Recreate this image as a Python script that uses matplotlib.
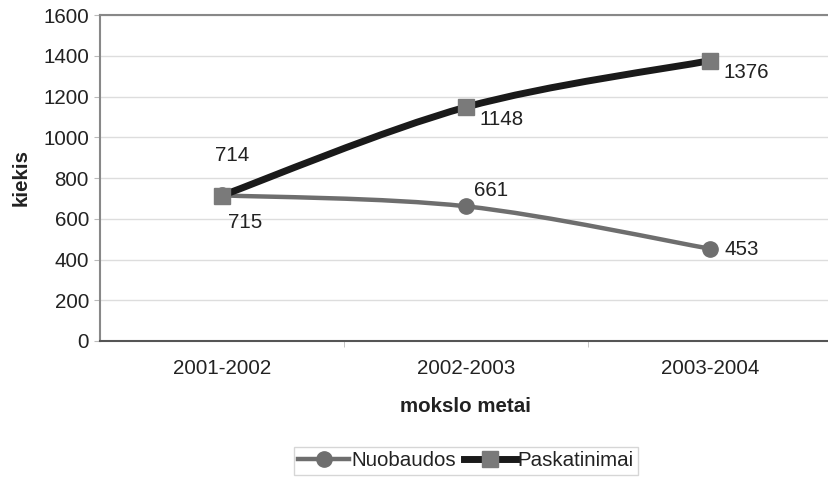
import matplotlib
matplotlib.use("Agg")
import matplotlib.pyplot as plt
import numpy as np
from matplotlib.path import Path
from matplotlib.patches import PathPatch
from matplotlib.lines import Line2D

plt.rcParams['font.family'] = ['Liberation Sans', 'DejaVu Sans']

categories = ["2001-2002", "2002-2003", "2003-2004"]
nuobaudos = [715, 661, 453]
paskatinimai = [714, 1148, 1376]

W, H = 829, 478
fig = plt.figure(figsize=(W/100, H/100), dpi=100)
ax = fig.add_axes([100/W, (H-341)/H, 732/W, 326/H])

x = np.arange(len(categories))

def smooth_path(xs, ys, t=1/6):
    pts = list(zip(xs, ys))
    verts = [pts[0]]
    codes = [Path.MOVETO]
    n = len(pts)
    for i in range(n-1):
        p0 = pts[i-1] if i > 0 else pts[i]
        p1 = pts[i]
        p2 = pts[i+1]
        p3 = pts[i+2] if i+2 < n else pts[i+1]
        c1 = (p1[0] + (p2[0]-p0[0])*t, p1[1] + (p2[1]-p0[1])*t)
        c2 = (p2[0] - (p3[0]-p1[0])*t, p2[1] - (p3[1]-p1[1])*t)
        verts += [c1, c2, p2]
        codes += [Path.CURVE4]*3
    return Path(verts, codes)

c_nuo = '#6e6e6e'
c_pas = '#1a1a1a'
c_sq = '#7a7a7a'
FS = 14.8

ax.add_patch(PathPatch(smooth_path(x, nuobaudos), fill=False, ec=c_nuo, lw=3.2, zorder=3, capstyle='round'))
ax.add_patch(PathPatch(smooth_path(x, paskatinimai), fill=False, ec=c_pas, lw=5, zorder=4, capstyle='round'))
ax.plot(x, nuobaudos, ls='none', marker='o', ms=11, mfc=c_nuo, mec=c_nuo, zorder=5)
ax.plot(x, paskatinimai, ls='none', marker='s', ms=12, mfc=c_sq, mec=c_sq, zorder=6)

ax.set_xlim(-0.5, 2.5)
ax.set_ylim(0, 1600)
ax.set_yticks(range(0, 1601, 200))
ax.set_xticks(x)
ax.set_xticklabels(categories)
ax.set_xticks([0.5, 1.5], minor=True)
ax.tick_params(axis='x', which='major', length=0, pad=13, labelsize=FS, colors='#222222')
ax.tick_params(axis='x', which='minor', length=4, color='#bbbbbb')
ax.tick_params(axis='y', length=4, color='#bbbbbb', labelsize=FS, labelcolor='#222222', pad=4)
ax.grid(axis='y', color='#dddddd', lw=1)
ax.set_axisbelow(True)
for s in ['left', 'top']:
    ax.spines[s].set_color('#888888')
    ax.spines[s].set_linewidth(1.5)
ax.spines['bottom'].set_color('#555555')
ax.spines['bottom'].set_linewidth(1.5)
ax.spines['right'].set_visible(False)

ax.set_ylabel("kiekis", fontsize=FS, fontweight='bold', color='#222222', labelpad=9)
ax.set_xlabel("mokslo metai", fontsize=FS, fontweight='bold', color='#222222', labelpad=14)

lab_kw = dict(fontsize=FS, color='#222222', zorder=7)
ax.annotate(str(paskatinimai[0]), (x[0], paskatinimai[0]), xytext=(10, 40), textcoords='offset pixels', ha='center', va='center', **lab_kw)
ax.annotate(str(nuobaudos[0]), (x[0], nuobaudos[0]), xytext=(23, -27), textcoords='offset pixels', ha='center', va='center', **lab_kw)
for i in [1, 2]:
    ax.annotate(str(paskatinimai[i]), (x[i], paskatinimai[i]), xytext=(14, -12), textcoords='offset pixels', ha='left', va='center', **lab_kw)
ax.annotate(str(nuobaudos[1]), (x[1], nuobaudos[1]), xytext=(8, 16), textcoords='offset pixels', ha='left', va='center', **lab_kw)
ax.annotate(str(nuobaudos[2]), (x[2], nuobaudos[2]), xytext=(15, -1), textcoords='offset pixels', ha='left', va='center', **lab_kw)

handles = [Line2D([], [], color=c_nuo, lw=3.2, marker='o', ms=11, mfc=c_nuo, mec=c_nuo),
           Line2D([], [], color=c_pas, lw=5, marker='s', ms=12, mfc=c_sq, mec=c_sq)]
leg = fig.legend(handles, ["Nuobaudos", "Paskatinimai"], loc='center', bbox_to_anchor=(466/W, 1-461/H),
                 ncol=2, frameon=True, fancybox=False, fontsize=FS, handlelength=2.5,
                 handletextpad=0.1, columnspacing=0.4, borderpad=0.22, edgecolor='#cccccc')
for t in leg.get_texts():
    t.set_color('#222222')

fig.savefig("out.png", dpi=100)
